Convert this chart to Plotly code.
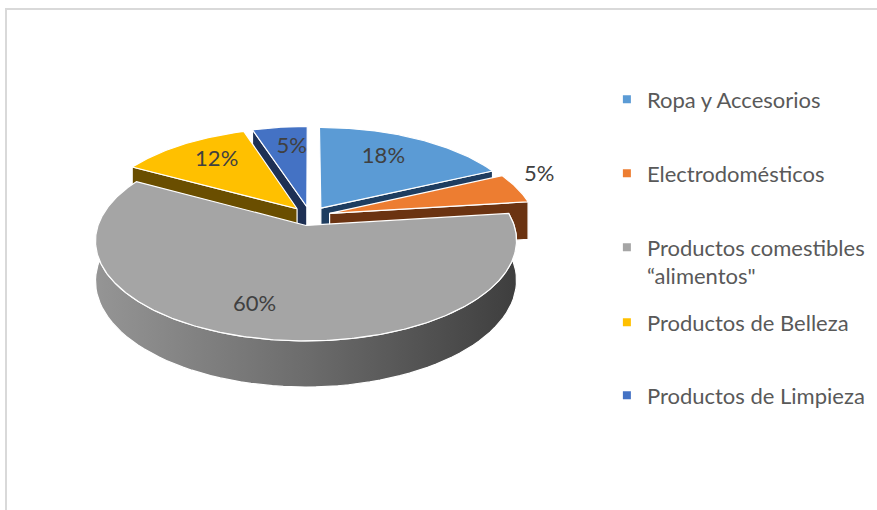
import numpy as np
import plotly.graph_objects as go

# ---- data ----
categories = [
    "Ropa y Accesorios",
    "Electrodomésticos",
    "Productos comestibles<br>“alimentos\"",
    "Productos de Belleza",
    "Productos de Limpieza",
]
values = [18, 5, 60, 12, 5]

# ---- style ----
top_colors = ["#5B9BD5", "#ED7D31", "#A5A5A5", "#FFC000", "#4472C4"]
side_colors = ["#1E3D60", "#6B3311", None, "#6A4E00", "#1E3054"]
gray_side_scale = [[0, "#959595"], [0.5, "#6C6C6C"], [1, "#3E3E3E"]]
# label placement in disk coordinates: (radius, angle clockwise from top)
label_polar = [(0.79, 30), (1.28, 69), (0.86, 196), (0.81, 322), (0.82, 353)]

# projection of the tilted disk (pixel-like units, y pointing down)
CX, CY = 310.0, 216.0
A, B = 205.0, 95.0
PERSP = 0.15
DEPTH = 38.5
PULL = 0.10
SIDE_EXTRA = 15.0  # degrees of rim shown past the silhouette


def project(X, Y, z=0.0):
    X = np.asarray(X, float)
    Y = np.asarray(Y, float)
    s = 1.0 / (1.0 - PERSP * Y)
    return CX + A * X * s, CY + (B * Y + z) * s


def unit(theta_deg):
    t = np.radians(theta_deg)
    return np.sin(t), -np.cos(t)


total = float(sum(values))
bounds = np.concatenate([[0.0], np.cumsum(values) / total * 360.0])

slices = []
for i, v in enumerate(values):
    t1, t2 = bounds[i], bounds[i + 1]
    mx, my = unit((t1 + t2) / 2)
    slices.append(dict(i=i, t1=t1, t2=t2, dx=PULL * mx, dy=PULL * my, depth_key=my))

fig = go.Figure()


def add_poly(xs, ys, color=None, gradient=None):
    kw = dict(
        x=list(xs) + [xs[0]],
        y=list(ys) + [ys[0]],
        mode="lines",
        fill="toself",
        line=dict(color="white", width=1.2),
        hoverinfo="skip",
        showlegend=False,
    )
    if gradient is not None:
        kw["fillgradient"] = dict(type="horizontal", colorscale=gradient)
    else:
        kw["fillcolor"] = color
    fig.add_trace(go.Scatter(**kw))


# paint from back to front
for sl in sorted(slices, key=lambda d: d["depth_key"]):
    i, t1, t2, dx, dy = sl["i"], sl["t1"], sl["t2"], sl["dx"], sl["dy"]
    side = side_colors[i]

    # rim (outer wall)
    lo, hi = max(t1, 90 - SIDE_EXTRA), min(t2, 270 + SIDE_EXTRA)
    if hi > lo:
        th = np.linspace(lo, hi, 80)
        ux, uy = unit(th)
        X, Y = dx + ux, dy + uy
        xt, yt = project(X, Y)
        xb, yb = project(X, Y, DEPTH)
        xs = np.concatenate([xt, xb[::-1]])
        ys = np.concatenate([yt, yb[::-1]])
        if side is None:
            add_poly(xs, ys, gradient=gray_side_scale)
        else:
            add_poly(xs, ys, color=side)

    # radial walls facing the viewer
    for t, visible in ((t1, np.sin(np.radians(t1)) < -1e-6), (t2, np.sin(np.radians(t2)) > 1e-6)):
        if not visible or side is None:
            continue
        ux, uy = unit(t)
        X = np.array([dx, dx + ux])
        Y = np.array([dy, dy + uy])
        xt, yt = project(X, Y)
        xb, yb = project(X, Y, DEPTH)
        add_poly([xt[0], xt[1], xb[1], xb[0]], [yt[0], yt[1], yb[1], yb[0]], color=side)

    # top face
    th = np.linspace(t1, t2, max(8, int((t2 - t1) * 2)))
    ux, uy = unit(th)
    X = np.concatenate([[dx], dx + ux])
    Y = np.concatenate([[dy], dy + uy])
    xt, yt = project(X, Y)
    add_poly(xt, yt, color=top_colors[i])

# percentage labels
for i, v in enumerate(values):
    r, ang = label_polar[i]
    ux, uy = unit(ang)
    lx, ly = project(r * ux, r * uy)
    fig.add_trace(go.Scatter(
        x=[float(lx)], y=[float(ly)], mode="text",
        text=[f"{round(v / total * 100)}%"],
        textfont=dict(family="Lato", size=22, color="#404040"),
        hoverinfo="skip", showlegend=False,
    ))

# legend entries, one legend box each
legend_tops = [0.846, 0.701, 0.556, 0.409, 0.266]
for i, name in enumerate(categories):
    key = "legend" if i == 0 else f"legend{i + 1}"
    fig.add_trace(go.Scatter(
        x=[None], y=[None], mode="markers", name=name,
        marker=dict(symbol="square", size=8, color=top_colors[i]),
        legend=key,
    ))
    fig.update_layout({key: dict(
        x=0.692, y=legend_tops[i], xanchor="left", yanchor="top",
        font=dict(family="Lato", size=22, color="#595959"),
        bgcolor="rgba(0,0,0,0)", valign="top", itemclick=False,
    )})

fig.add_shape(type="rect", x0=6, y0=9, x1=890, y1=520,
              line=dict(color="#D9D9D9", width=2), layer="below")

fig.update_layout(
    width=877, height=510,
    margin=dict(l=0, r=0, t=0, b=0),
    paper_bgcolor="white", plot_bgcolor="white",
    xaxis=dict(range=[0, 877], visible=False, fixedrange=True),
    yaxis=dict(range=[510, 0], visible=False, fixedrange=True),
    hovermode=False,
)

fig.write_html("out.html")
